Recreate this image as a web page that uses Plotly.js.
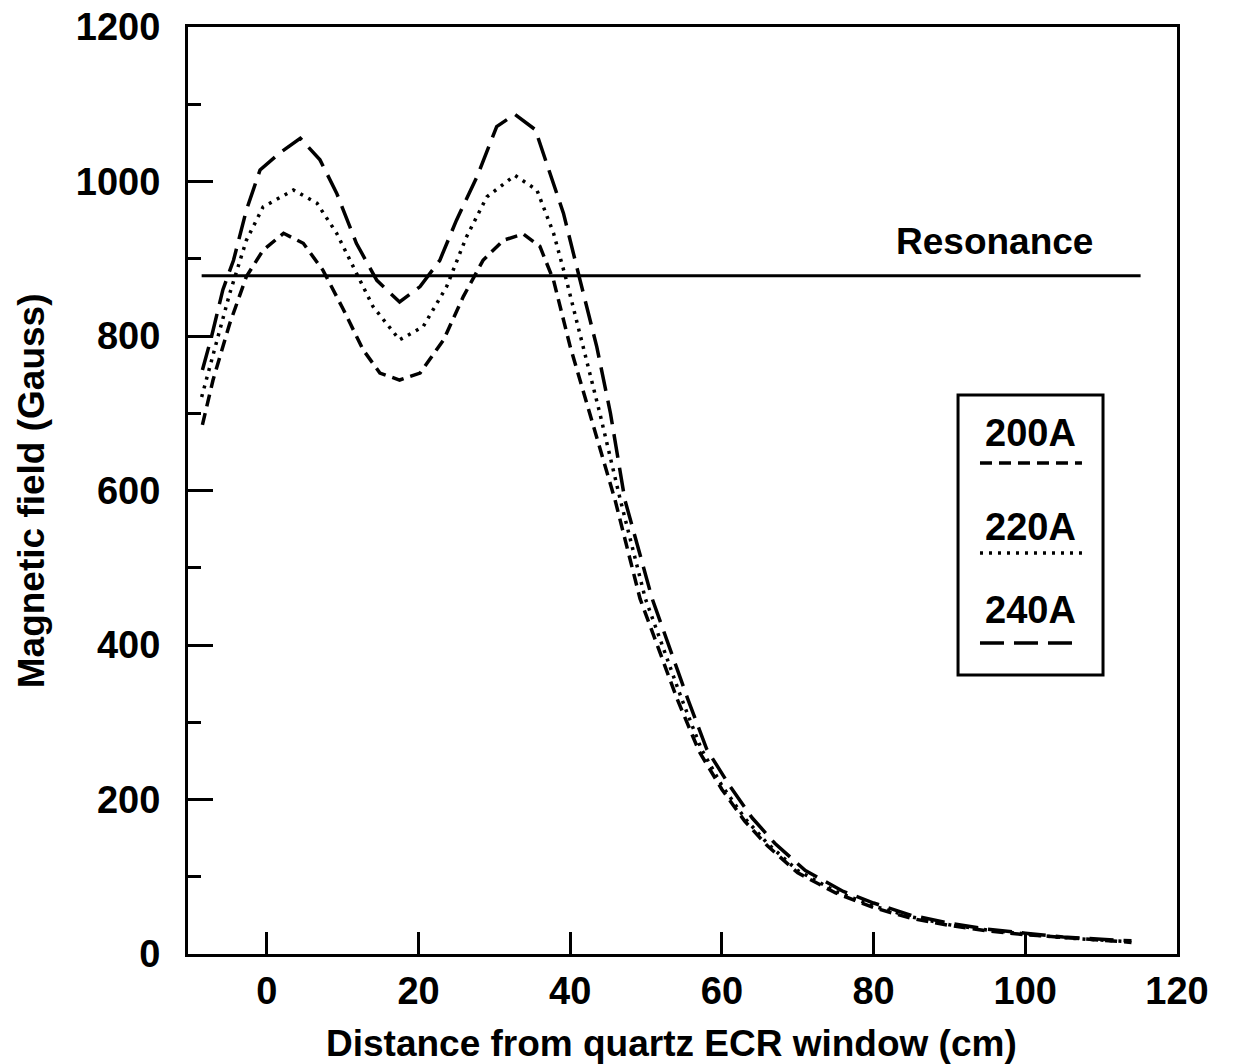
<!DOCTYPE html>
<html>
<head>
<meta charset="utf-8">
<script src="https://cdn.plot.ly/plotly-3.0.1.min.js"></script>
<style>
  html, body { margin: 0; padding: 0; background: #fff; }
  #chart { width: 1235px; height: 1064px; }
</style>
</head>
<body>
<div id="chart"></div>
<script>
// ---- data ----
const x200 = [-8.5, -7.1, -4.9, -2.7, -0.5, 2.2, 4.8, 7.4, 10.1, 12.7, 14.9, 17.5, 20.2, 23.3, 25.9, 28.5, 31.2, 33.8, 36.0, 37.8, 40.0, 42.6, 45.9, 49.2, 54.1, 57, 60, 63, 66, 70, 75, 80, 85, 90, 95, 100, 105, 110, 114];
const y200 = [685, 743, 816, 877, 911, 933, 920, 885, 834, 782, 752, 743, 752, 795, 851, 898, 924, 932, 916, 872, 786, 700, 588, 460, 330, 262, 213, 172, 140, 105, 79, 60, 46, 37, 30, 25, 21, 18, 15];

const x220 = [-8.6, -7.1, -4.9, -2.7, -0.5, 3.5, 6.6, 9.2, 11.8, 14.0, 17.5, 20.6, 23.7, 26.3, 29.0, 32.7, 35.6, 37.8, 39.5, 41.7, 43.9, 46.6, 49.9, 54.7, 57.3, 60, 63, 66, 70, 75, 80, 85, 90, 95, 100, 105, 110, 114];
const y220 = [721, 777, 855, 924, 967, 989, 972, 933, 881, 838, 795, 812, 864, 928, 980, 1008, 989, 933, 872, 786, 700, 588, 460, 330, 265, 218, 176, 143, 108, 81, 62, 48, 38, 31, 26, 21, 18, 16];

const x240 = [-8.5, -7.3, -5.8, -4.4, -2.7, -0.9, 1.7, 4.4, 7.0, 9.2, 11.8, 14.5, 17.5, 20.2, 22.8, 25.0, 27.7, 30.3, 32.7, 35.4, 36.9, 39.1, 41.3, 43.5, 45.3, 47.2, 50.8, 55.5, 58, 61, 64, 67, 71, 76, 80, 85, 90, 95, 100, 105, 110, 114];
const y240 = [756, 799, 860, 898, 963, 1015, 1037, 1056, 1028, 985, 920, 872, 844, 864, 898, 950, 1006, 1071, 1087, 1067, 1023, 959, 872, 786, 700, 588, 460, 330, 265, 218, 176, 143, 108, 81, 66, 50, 40, 32, 27, 22, 19, 17];

const resonanceX = [-8.6, 115.2];
const resonanceY = [878, 878];

const seriesNames = ["200A", "220A", "240A"];
const xTickVals = [0, 20, 40, 60, 80, 100, 120];
const yTickVals = [0, 200, 400, 600, 800, 1000, 1200];

// ---- styling ----
const FONT = "'Liberation Sans', Arial, Helvetica, sans-serif";
const dashes = ["12px,7px", "3px,6px", "24px,10px"];
const LW = 3.5;

const traces = [
  {x: x200, y: y200, name: seriesNames[0], mode: "lines", line: {color: "#000", width: LW, dash: dashes[0]}},
  {x: x220, y: y220, name: seriesNames[1], mode: "lines", line: {color: "#000", width: LW, dash: dashes[1]}},
  {x: x240, y: y240, name: seriesNames[2], mode: "lines", line: {color: "#000", width: LW, dash: dashes[2]}},
  {x: resonanceX, y: resonanceY, name: "Resonance", mode: "lines", line: {color: "#000", width: 3}}
];

// legend box in paper coords
const L = {x0: 0.7786, x1: 0.9252, y0: 0.3010, y1: 0.6030};
const legTextY = [0.5620, 0.4606, 0.3711];
const legLineY = [0.5297, 0.4326, 0.3355];
const legLineX = [0.8008, 0.9039];

const shapes = [
  {type: "rect", xref: "paper", yref: "paper", x0: L.x0, x1: L.x1, y0: L.y0, y1: L.y1,
   line: {color: "#000", width: 3}, fillcolor: "rgba(0,0,0,0)"}
];
const annotations = [];
for (let i = 0; i < 3; i++) {
  shapes.push({type: "line", xref: "paper", yref: "paper", x0: legLineX[0], x1: legLineX[1],
    y0: legLineY[i], y1: legLineY[i], line: {color: "#000", width: LW, dash: dashes[i]}});
  annotations.push({xref: "paper", yref: "paper", x: (L.x0 + L.x1) / 2, y: legTextY[i],
    text: seriesNames[i], showarrow: false, xanchor: "center", yanchor: "middle",
    font: {family: FONT, size: 38, color: "#000", weight: 700}});
}
annotations.push({xref: "x", yref: "y", x: 95.9, y: 922, text: "Resonance", showarrow: false,
  xanchor: "center", yanchor: "middle", font: {family: FONT, size: 37, color: "#000", weight: 700}});
// axis titles
annotations.push({xref: "paper", yref: "paper", x: 0.489, y: -0.072, text: "Distance from quartz ECR window (cm)",
  showarrow: false, xanchor: "center", yanchor: "top", font: {family: FONT, size: 37, color: "#000", weight: 700}});
annotations.push({xref: "paper", yref: "paper", x: -0.158, y: 0.5, text: "Magnetic field (Gauss)", textangle: -90,
  showarrow: false, xanchor: "center", yanchor: "middle", font: {family: FONT, size: 37, color: "#000", weight: 700}});

const layout = {
  width: 1235, height: 1064,
  margin: {l: 188, r: 58, t: 27, b: 110},
  paper_bgcolor: "#fff", plot_bgcolor: "#fff",
  showlegend: false,
  font: {family: FONT, color: "#000", weight: 700},
  xaxis: {
    range: [-10.4, 120], tickvals: xTickVals, ticks: "inside", ticklen: 22, tickwidth: 3, tickcolor: "#000",
    showline: true, linewidth: 3, linecolor: "#000", mirror: true, showgrid: false, zeroline: false,
    tickfont: {family: FONT, size: 38, color: "#000", weight: 700}, ticklabelstandoff: 1
  },
  yaxis: {
    range: [0, 1200], tickvals: yTickVals, ticks: "inside", ticklen: 25, tickwidth: 3, tickcolor: "#000",
    minor: {dtick: 100, tick0: 0, ticks: "inside", ticklen: 13, tickwidth: 3, tickcolor: "#000", showgrid: false},
    showline: true, linewidth: 3, linecolor: "#000", mirror: true, showgrid: false, zeroline: false,
    tickfont: {family: FONT, size: 38, color: "#000", weight: 700}, ticklabelstandoff: 17
  },
  shapes: shapes,
  annotations: annotations
};

Plotly.newPlot("chart", traces, layout, {staticPlot: true, displayModeBar: false});
</script>
</body>
</html>
